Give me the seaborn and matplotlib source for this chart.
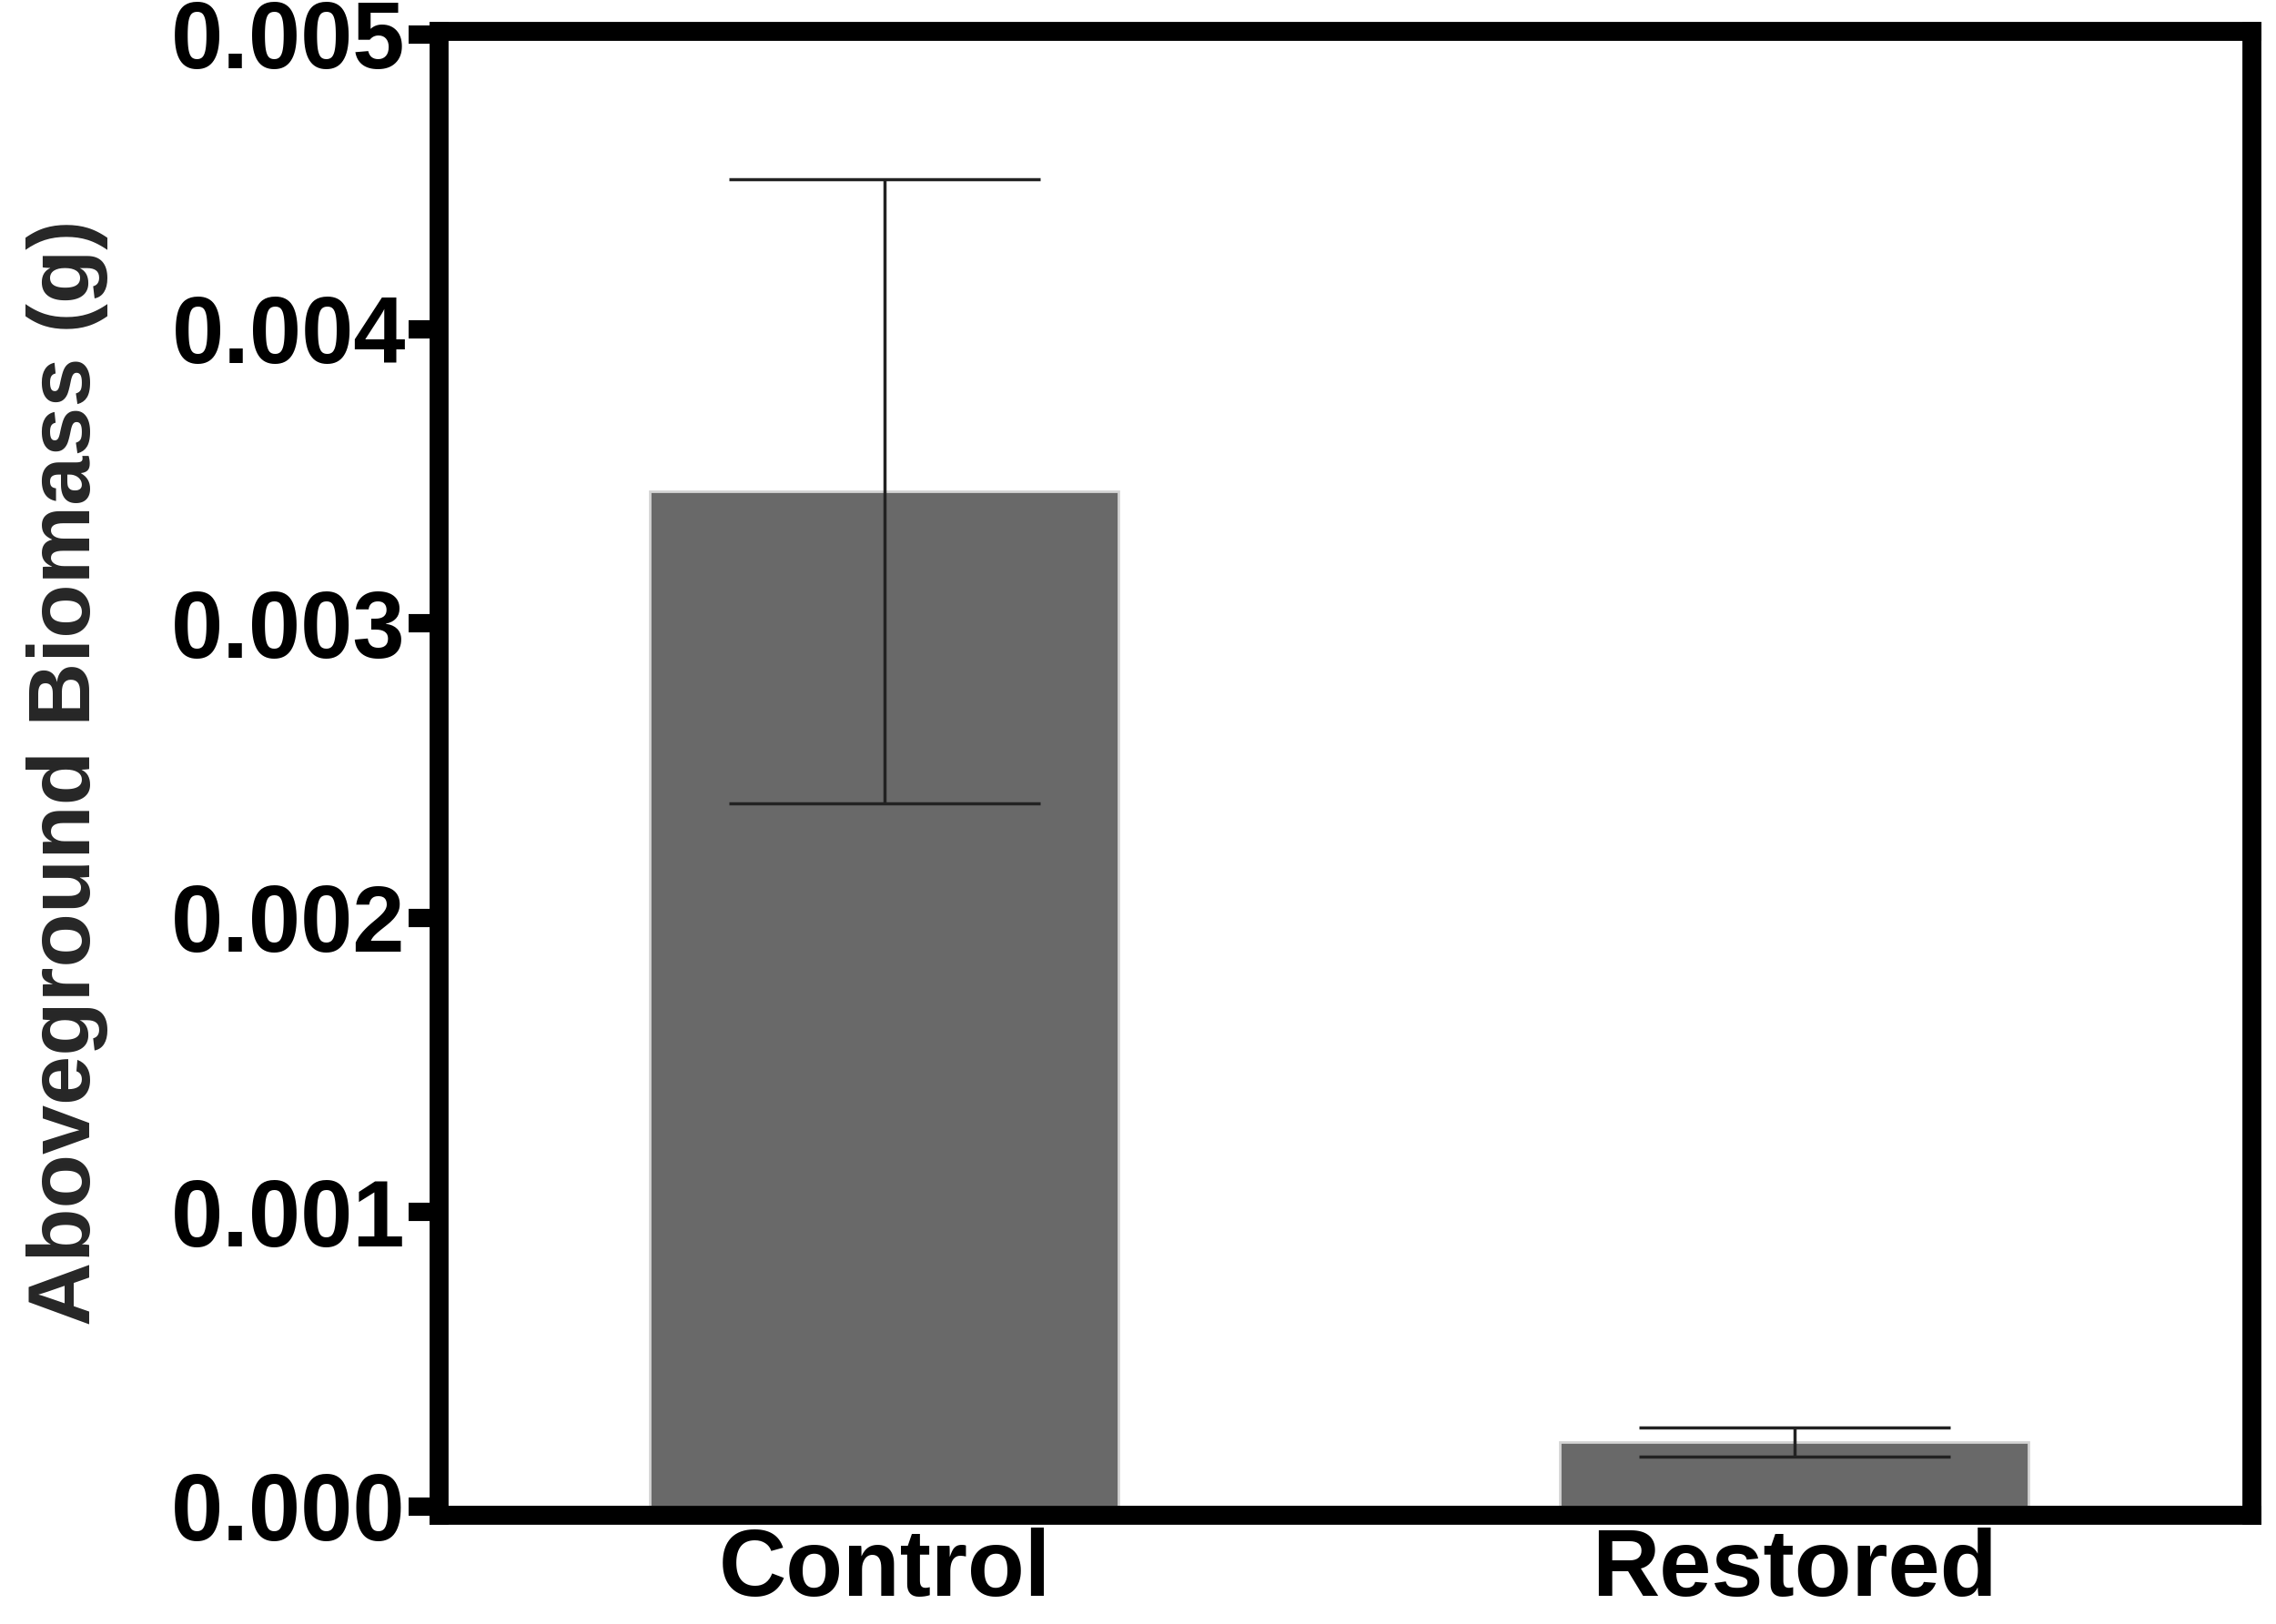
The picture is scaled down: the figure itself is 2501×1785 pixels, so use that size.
import matplotlib
matplotlib.use("Agg")
import matplotlib.pyplot as plt
import seaborn as sns
import pandas as pd

# bar means and standard errors
groups = ["Control", "Restored"]
biomass_mean = [0.00345, 0.00022]
biomass_err = [0.00106, 0.00005]
y_ticks = [0.000, 0.001, 0.002, 0.003, 0.004, 0.005]

sns.set_style("ticks")
plt.rcParams["font.family"] = ["Liberation Sans", "DejaVu Sans"]
plt.rcParams["font.weight"] = "bold"

df = pd.DataFrame({"group": groups, "biomass": biomass_mean})

fig = plt.figure(figsize=(25.01, 17.85), dpi=100)
ax = fig.add_axes([0.1927, 0.0672, 0.7965, 0.9137])

sns.barplot(data=df, x="group", y="biomass", color="#696969", saturation=1,
            width=0.515, errorbar=None, edgecolor="#d4d4d4", linewidth=2, ax=ax)

ax.errorbar(x=range(len(groups)), y=biomass_mean, yerr=biomass_err, fmt="none",
            ecolor="#222222", elinewidth=2.5, capsize=123, capthick=2.5)

ax.set_xlim(-0.49, 0.502 + 1)
ax.set_ylim(-0.000028, 0.005012)
ax.set_yticks(y_ticks)
ax.set_yticklabels([f"{v:.3f}" for v in y_ticks])

for side in ["left", "right", "top", "bottom"]:
    ax.spines[side].set_visible(True)
    ax.spines[side].set_linewidth(15)
    ax.spines[side].set_color("black")

ax.tick_params(axis="y", length=24, width=14.5, pad=2, labelsize=74, colors="black")
ax.tick_params(axis="x", length=0, pad=10, labelsize=74, colors="black")
for lab in ax.get_xticklabels() + ax.get_yticklabels():
    lab.set_fontweight("bold")

ax.set_xlabel("")
ax.set_ylabel("Aboveground Biomass (g)", fontsize=70, fontweight="bold", labelpad=50)

fig.savefig("out.png", dpi=100)
plt.close(fig)
